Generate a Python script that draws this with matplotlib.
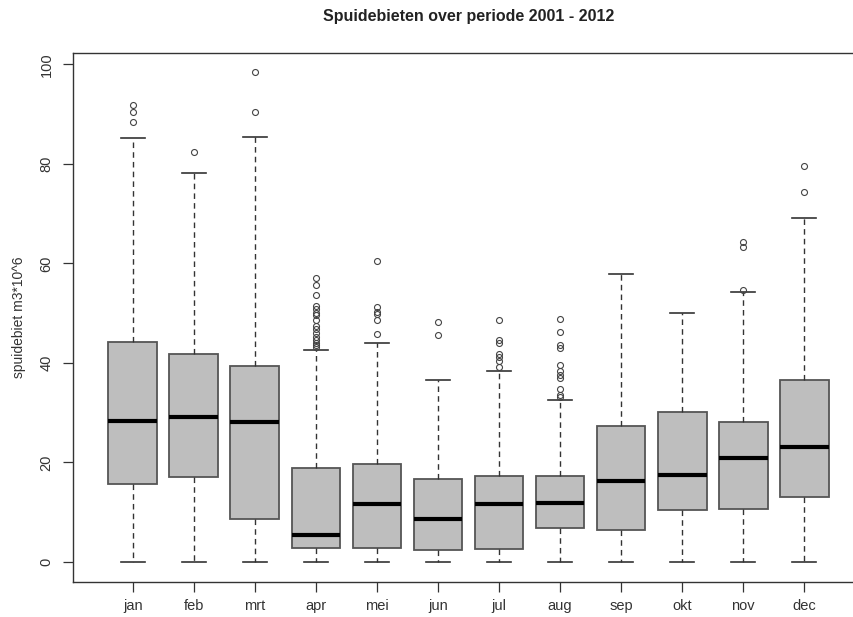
import matplotlib
matplotlib.use("Agg")
import matplotlib.pyplot as plt

months = ["jan", "feb", "mrt", "apr", "mei", "jun", "jul", "aug", "sep", "okt", "nov", "dec"]
whislo = [0, 0, 0, 0, 0, 0, 0, 0, 0, 0, 0, 0]
q1 = [15.6, 17.1, 8.7, 2.75, 2.75, 2.35, 2.6, 6.8, 6.5, 10.4, 10.6, 13.1]
med = [28.3, 29.2, 28.1, 5.5, 11.7, 8.7, 11.7, 11.9, 16.3, 17.4, 21.0, 23.2]
q3 = [44.3, 41.8, 39.3, 18.8, 19.6, 16.7, 17.2, 17.2, 27.3, 30.2, 28.1, 36.5]
whishi = [85.2, 78.1, 85.4, 42.6, 44.0, 36.5, 38.4, 32.6, 57.9, 50.1, 54.2, 69.2]
fliers = [
    [91.9, 90.5, 88.4],
    [82.5],
    [98.4, 90.5],
    [57.1, 55.7, 53.7, 51.5, 50.8, 50.0, 49.6, 48.6, 47.4, 46.8, 46.0, 45.3, 44.6, 44.1, 43.7, 43.3],
    [60.5, 51.3, 50.2, 49.8, 48.6, 45.9],
    [48.2, 45.7],
    [48.6, 44.6, 44.0, 41.8, 41.3, 40.5, 39.1],
    [48.9, 46.2, 43.6, 43.1, 39.5, 38.3, 37.6, 37.0, 34.7, 33.6, 33.2],
    [],
    [],
    [64.4, 63.4, 54.6],
    [79.6, 74.3],
]
yticks = [0, 20, 40, 60, 80, 100]

plt.rcParams['font.family'] = ['Liberation Sans', 'DejaVu Sans']

W, H = 854, 617
fig = plt.figure(figsize=(W / 100, H / 100), dpi=100)
left, right, top, bottom = 73, 864, 53.3, 582
ax = fig.add_axes([left / W, 1 - bottom / H, (right - left) / W, (bottom - top) / H])

stats = []
for i, m in enumerate(months):
    stats.append(dict(label=m, whislo=whislo[i], q1=q1[i], med=med[i], q3=q3[i],
                      whishi=whishi[i], fliers=fliers[i]))

edge = "#555555"
ax.bxp(stats, positions=range(1, 13), widths=0.8, patch_artist=True,
       boxprops=dict(facecolor="#bebebe", edgecolor=edge, linewidth=1.3),
       medianprops=dict(color="black", linewidth=3, solid_capstyle="butt"),
       whiskerprops=dict(color="#333333", linewidth=1.0, linestyle=(0, (4, 3))),
       capprops=dict(color="#333333", linewidth=1.2),
       capwidths=0.4,
       flierprops=dict(marker="o", markerfacecolor="none", markeredgecolor="#444444",
                       markersize=4.3, markeredgewidth=0.8, linestyle="none"))

ax.set_xlim(0.02, 12.98)
ax.set_ylim(-4.02, 102.25)
ax.set_yticks(yticks)
ax.set_yticklabels([str(v) for v in yticks], rotation=90, va="center")
ax.set_xticks(range(1, 13))
ax.set_xticklabels(months)
ax.tick_params(axis="both", direction="out", length=7, width=0.9, color="#333333",
               labelsize=10.5, labelcolor="#333333", pad=5)
ax.tick_params(axis="y", pad=7)
ax.spines["right"].set_visible(False)
for s in ax.spines.values():
    s.set_color("#333333")
    s.set_linewidth(1.0)

ax.set_ylabel("spuidebiet m3*10^6", fontsize=10, color="#333333", labelpad=10)
fig.text((left + right) / 2 / W, 1 - 17 / H, "Spuidebieten over periode 2001 - 2012",
         ha="center", va="center", fontsize=11.5, fontweight="bold", color="#222222")

fig.savefig("out.png", dpi=100)
